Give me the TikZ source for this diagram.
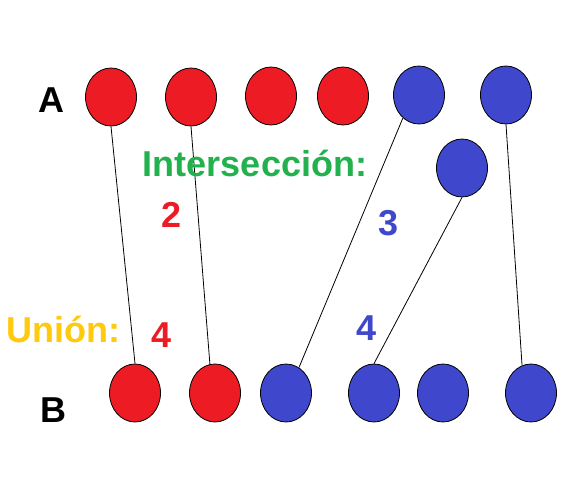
\documentclass[tikz,border=0pt]{standalone}
\usepackage{fontspec}
\setmainfont{Liberation Sans}
\usepackage{tikz}
\usetikzlibrary{positioning, shapes.geometric}
\definecolor{paintred}{RGB}{237,28,36}
\definecolor{paintblue}{RGB}{63,72,204}
\definecolor{paintgreen}{RGB}{34,177,76}
\definecolor{paintyellow}{RGB}{255,201,14}
\begin{document}
\begin{tikzpicture}[x=1pt,y=-1pt]
		\tikzstyle{ball} = [shape=ellipse, draw=black, line width=0.8, inner sep=0, minimum width=51, minimum height=58]
		\tikzstyle{redball} = [ball, fill=paintred]
		\tikzstyle{blueball} = [ball, fill=paintblue]
		\tikzstyle{txt} = [inner sep=0, anchor=base, font=\fontsize{36}{40}\selectfont\bfseries]
		\tikzstyle{wire} = [draw, line width=0.8, black]
		\useasboundingbox [fill=white] (0,0) rectangle (575,489);
		\node [txt] (v15) at (51,113) {A};
		\node [txt] (v16) at (53,422) {B};
		\node [redball] (v1) at (111,97) {};
		\node [redball] (v2) at (191,97) {};
		\node [redball] (v3) at (271,96) {};
		\node [redball] (v4) at (343,96) {};
		\node [blueball] (v5) at (419,95) {};
		\node [blueball] (v6) at (506,95) {};
		\node [blueball] (v7) at (462,168) {};
		\node [redball] (v8) at (135,393) {};
		\node [redball] (v9) at (215,393) {};
		\node [blueball] (v10) at (286,393) {};
		\node [blueball] (v11) at (374,393) {};
		\node [blueball] (v12) at (443,393) {};
		\node [blueball] (v13) at (531,393) {};
		\draw [wire] (v1.south) edge (v8.north);
		\draw [wire] (v2.south) edge (v9.100);
		\draw [wire] (v5.235) edge (v10.63);
		\draw [wire] (v7.south) edge (v11.north);
		\draw [wire] (v6.south) edge (v13.108);
		\node [txt, text=paintgreen] (v17) at (255,177) {Intersección:};
		\node [txt, text=paintyellow] (v18) at (63,342) {Unión:};
		\node [txt, text=paintred] (v19) at (172,227) {2};
		\node [txt, text=paintblue] (v20) at (389,235) {3};
		\node [txt, text=paintred] (v21) at (162,347) {4};
		\node [txt, text=paintblue] (v22) at (367,340) {4};
\end{tikzpicture}
\end{document}
